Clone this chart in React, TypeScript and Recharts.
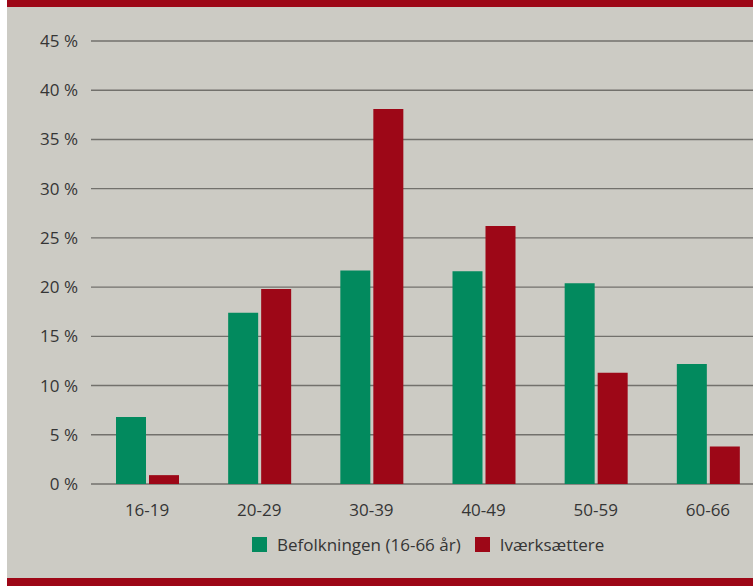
import { Bar, BarChart, CartesianGrid, Legend, XAxis, YAxis } from "recharts";

const ageGroups = ["16-19", "20-29", "30-39", "40-49", "50-59", "60-66"];
const populationShare = [6.8, 17.4, 21.7, 21.6, 20.4, 12.2];
const entrepreneurShare = [0.9, 19.8, 38.1, 26.2, 11.3, 3.8];
const yTicks = [0, 5, 10, 15, 20, 25, 30, 35, 40, 45];

const palette = {
  green: "#028a5e",
  red: "#9d0717",
  bg: "#cccbc4",
  grid: "#72716c",
  text: "#353535"
};

const fontFamily = "'Open Sans', 'Noto Sans', sans-serif";

const data = ageGroups.map((group, i) => ({
  group,
  befolkning: populationShare[i],
  ivaerk: entrepreneurShare[i]
}));

const tickStyle = { fill: palette.text, fontSize: 17, fontFamily };

interface LegendEntry {
  value?: string;
  color?: string;
}

function SquareLegend({ payload }: { payload?: LegendEntry[] }) {
  if (!payload?.length) return null;
  return (
    <div style={{ display: "flex", alignItems: "center", fontFamily, fontSize: 17, color: palette.text, whiteSpace: "nowrap" }}>
      {payload.map((entry, i) => (
        <div key={entry.value} style={{ display: "flex", alignItems: "center", marginLeft: i === 0 ? 0 : 14 }}>
          <span style={{ width: 15, height: 15, background: entry.color, marginRight: 10, display: "inline-block" }} />
          <span>{entry.value}</span>
        </div>
      ))}
    </div>
  );
}

export default function App() {
  return (
    <div style={{ position: "absolute", left: 0, top: 0, width: 753, height: 586, overflow: "hidden", background: "#ffffff" }}>
      <div style={{ position: "absolute", left: 7, top: 0, width: 746, height: 586, background: palette.bg }} />
      <div style={{ position: "absolute", left: 0, top: 0 }}>
        <BarChart
          width={790}
          height={586}
          data={data}
          margin={{ top: 41, right: 26, bottom: 72, left: 0 }}
          barSize={30}
          barGap={3}
        >
          <CartesianGrid stroke={palette.grid} strokeWidth={1.4} vertical={false} />
          <XAxis
            dataKey="group"
            axisLine={false}
            tickLine={false}
            tickSize={0}
            tickMargin={20}
            height={30}
            tick={tickStyle}
          />
          <YAxis
            domain={[0, 45]}
            ticks={yTicks}
            axisLine={false}
            tickLine={false}
            tickSize={0}
            tickMargin={13}
            width={91}
            tick={tickStyle}
            tickFormatter={(v) => `${v} %`}
          />
          <Legend
            layout="horizontal"
            verticalAlign="middle"
            align="center"
            content={<SquareLegend />}
            wrapperStyle={{ top: 533, left: 252, width: "auto" }}
          />
          <Bar dataKey="befolkning" name="Befolkningen (16-66 år)" fill={palette.green} isAnimationActive={false} />
          <Bar dataKey="ivaerk" name="Iværksættere" fill={palette.red} isAnimationActive={false} />
        </BarChart>
      </div>
      {/* red rules at top and bottom of the panel */}
      <div style={{ position: "absolute", left: 7, top: 0, width: 746, height: 7, background: palette.red, zIndex: 2 }} />
      <div style={{ position: "absolute", left: 7, top: 578, width: 746, height: 8, background: palette.red, zIndex: 2 }} />
    </div>
  );
}
